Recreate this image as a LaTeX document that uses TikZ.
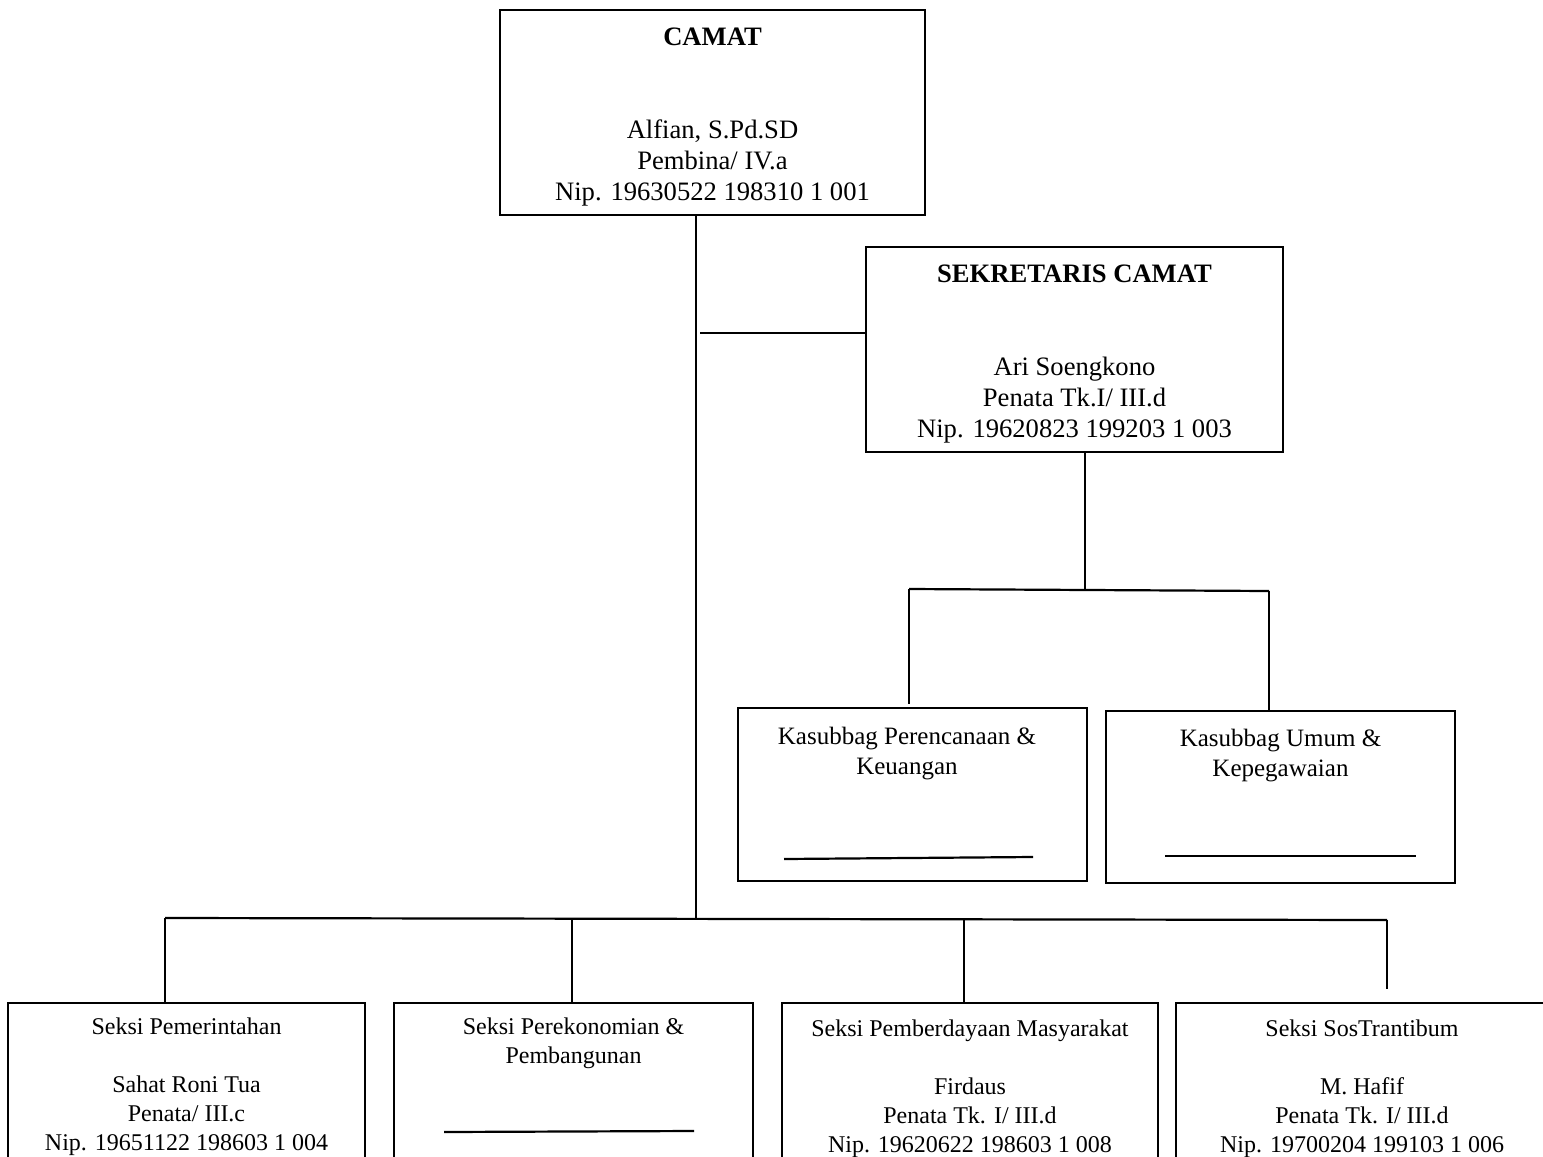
\documentclass[tikz,border=0pt]{standalone}
\usepackage{fontspec}
\setmainfont{Liberation Serif}
\newcommand{\bigfont}{\fontsize{26.6pt}{31pt}\selectfont}
\newcommand{\midfont}{\fontsize{25pt}{30pt}\selectfont}
\newcommand{\smallfont}{\fontsize{24pt}{29pt}\selectfont}
\begin{document}
\begin{tikzpicture}[x=1pt, y=1pt]
\useasboundingbox (0,0) rectangle (1543,-1157);
\clip (0,0) rectangle (1543,-1157);
\begin{scope}[every node/.style={rectangle, draw, line width=2.2pt, inner sep=0pt}]
    \node[minimum width=425pt, minimum height=205pt] (camat) at (712.5,-112.5) {};
    \node[minimum width=417pt, minimum height=205pt] (sekcam) at (1074.5,-349.5) {};
    \node[minimum width=349pt, minimum height=173pt] (kasubP) at (912.5,-794.5) {};
    \node[minimum width=349pt, minimum height=172pt] (kasubU) at (1280.5,-797) {};
    \node[minimum width=357pt, minimum height=189pt] (seksiA) at (186.5,-1097.5) {};
    \node[minimum width=359pt, minimum height=189pt] (seksiB) at (573.5,-1097.5) {};
    \node[minimum width=376pt, minimum height=189pt] (seksiC) at (970,-1097.5) {};
    \node[minimum width=372pt, minimum height=189pt] (seksiD) at (1362,-1097.5) {};
\end{scope}
\begin{scope}[every node/.style={align=center, anchor=north, inner sep=0pt}]
    \node[font=\bigfont] (tcamat) at (712.5,-28) {\textbf{CAMAT}\\[62pt]Alfian, S.Pd.SD\\Pembina/ IV.a\\Nip. 19630522 198310 1 001};
    \node[font=\bigfont] (tsekcam) at (1074.5,-265) {\textbf{SEKRETARIS CAMAT}\\[62pt]Ari Soengkono\\Penata Tk.I/ III.d\\Nip. 19620823 199203 1 003};
    \node[font=\midfont] (tkasubP) at (907,-727) {Kasubbag Perencanaan \&\\Keuangan};
    \node[font=\midfont] (tkasubU) at (1280.5,-729) {Kasubbag Umum \&\\Kepegawaian};
    \node[font=\smallfont] (tseksiA) at (186.5,-1018) {Seksi Pemerintahan\\[29pt]Sahat Roni Tua\\Penata/ III.c\\Nip. 19651122 198603 1 004};
    \node[font=\smallfont] (tseksiB) at (573.5,-1018) {Seksi Perekonomian \&\\Pembangunan};
    \node[font=\smallfont] (tseksiC) at (970,-1020) {Seksi Pemberdayaan Masyarakat\\[29pt]Firdaus\\Penata Tk. I/ III.d\\Nip. 19620622 198603 1 008};
    \node[font=\smallfont] (tseksiD) at (1362,-1020) {Seksi SosTrantibum\\[29pt]M. Hafif\\Penata Tk. I/ III.d\\Nip. 19700204 199103 1 006};
\end{scope}
\coordinate (ctop) at (696,-216);
\coordinate (hub) at (696,-918);
\coordinate (sj) at (700,-333);
\coordinate (sd) at (1085,-452);
\coordinate (kmid) at (1085,-589);
\coordinate (kL) at (909,-589);
\coordinate (kLend) at (909,-704);
\coordinate (kR) at (1269,-591);
\coordinate (bL) at (165,-918);
\coordinate (bB) at (572,-918);
\coordinate (bC) at (964,-919);
\coordinate (bR) at (1387,-920);
\coordinate (bRend) at (1387,-989);
\coordinate (ulP1) at (784,-859);
\coordinate (ulP2) at (1033,-857);
\coordinate (ulU1) at (1165,-856);
\coordinate (ulU2) at (1416,-856);
\coordinate (ulB1) at (444,-1132);
\coordinate (ulB2) at (694,-1131);
\begin{scope}[every edge/.style={draw=black, line width=2.2pt}]
    \path (ctop) edge (hub);
    \path (sj) edge (sekcam.west |- sj);
    \path (sd) edge (kmid);
    \path (kL) edge (kR);
    \path (kL) edge (kLend);
    \path (kR) edge (kR |- kasubU.north);
    \path (bL) edge (bR);
    \path (bL) edge (bL |- seksiA.north);
    \path (bB) edge (bB |- seksiB.north);
    \path (bC) edge (bC |- seksiC.north);
    \path (bR) edge (bRend);
    \path (ulP1) edge (ulP2);
    \path (ulU1) edge (ulU2);
    \path (ulB1) edge (ulB2);
\end{scope}
\end{tikzpicture}
\end{document}
